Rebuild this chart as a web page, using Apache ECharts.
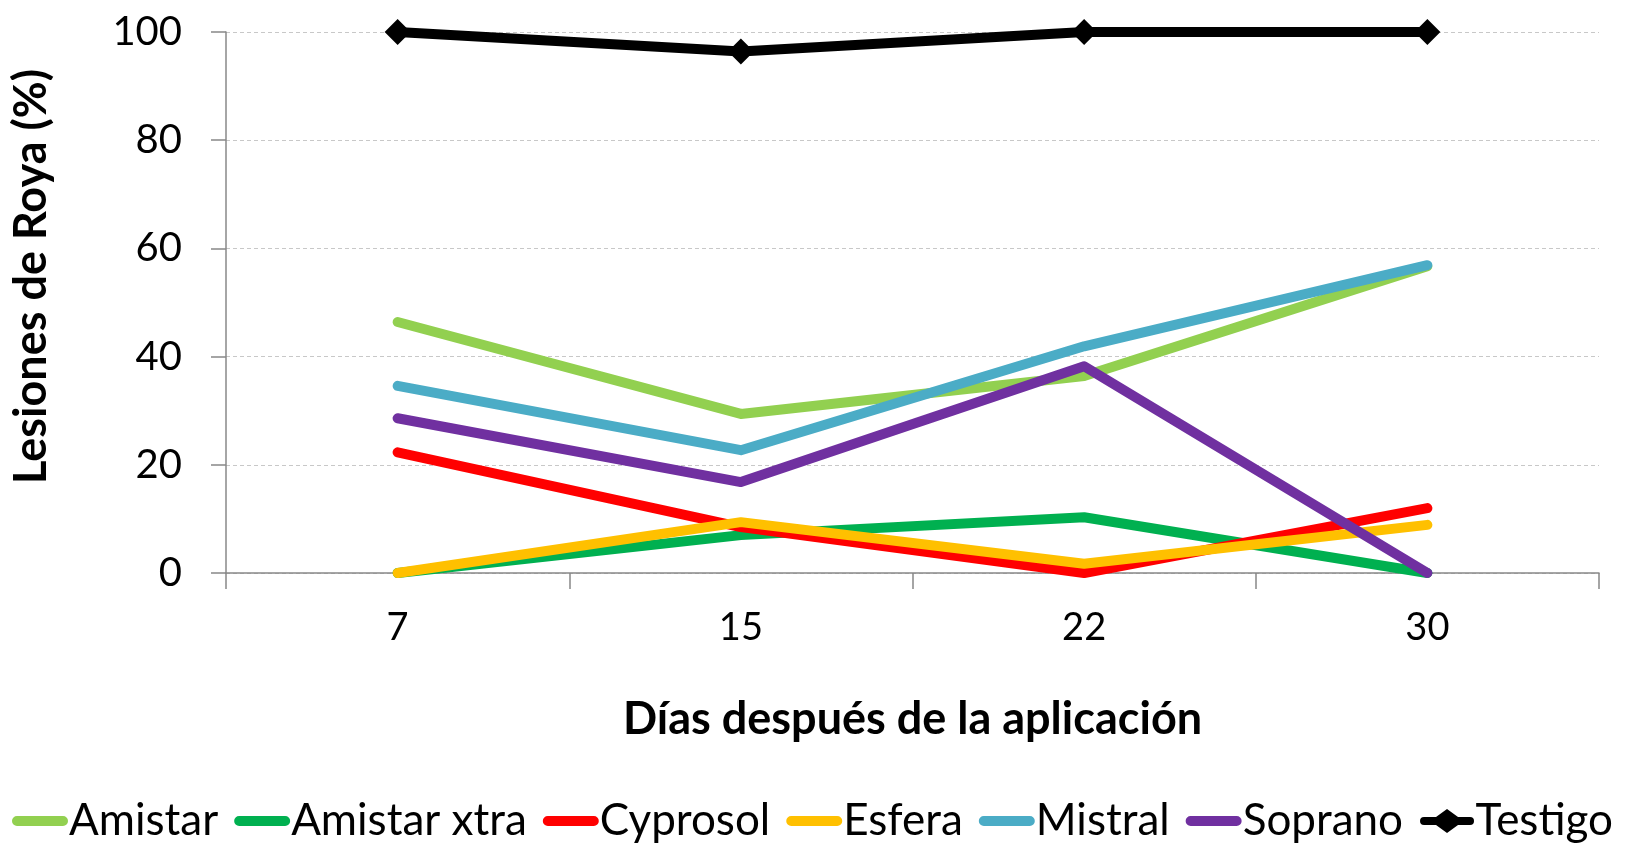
<!DOCTYPE html>
<html>
<head>
<meta charset="utf-8">
<script src="https://cdn.jsdelivr.net/npm/echarts@6/dist/echarts.min.js"></script>
<style>
  html, body { margin: 0; padding: 0; background: #fff; }
  #chart { width: 1625px; height: 848px; }
</style>
</head>
<body>
<div id="chart"></div>
<script>
// dias despues de la aplicacion
const dias = ["7", "15", "22", "30"];
const yTicks = [0, 20, 40, 60, 80, 100];

const nombres = ["Amistar", "Amistar xtra", "Cyprosol", "Esfera", "Mistral", "Soprano", "Testigo"];
const colores = ["#92D050", "#00B050", "#FF0000", "#FFC000", "#4BACC6", "#7030A0", "#000000"];

const amistar = [46.4, 29.4, 36.4, 56.7];
const amistarXtra = [0, 7.0, 10.3, 0];
const cyprosol = [22.3, 8.5, 0, 12.0];
const esfera = [0, 9.4, 1.7, 8.9];
const mistral = [34.6, 22.7, 41.9, 56.9];
const soprano = [28.6, 16.8, 38.2, 0];
const testigo = [100, 96.4, 100, 100];

const font = "Lato, 'Open Sans', sans-serif";

// iconos de leyenda: barra redondeada (caja 56x24) y barra + rombo
const iconoLinea = "path://M0,0L0,0ZM0,24L0,24ZM5,7L51,7A5,5 0 0 1 51,17L5,17A5,5 0 0 1 5,7Z";
const iconoRombo = "path://M0,0L0,0ZM0,24L0,24ZM5,8L17,8L28,0L39,8L51,8A4,4 0 0 1 51,16L39,16L28,24L17,16L5,16A4,4 0 0 1 5,8Z";

function linea(name, data, color) {
  return {
    name: name,
    type: "line",
    data: data,
    symbol: "none",
    animation: false,
    itemStyle: { color: color },
    lineStyle: { color: color, width: 10, cap: "round", join: "round" },
  };
}

let myChart = echarts.init(document.getElementById("chart"));
myChart.setOption({
  textStyle: { fontFamily: font },
  grid: { left: 226, right: 26, top: 32, bottom: 275 },
  legend: {
    bottom: 0,
    left: "center",
    itemWidth: 56,
    itemHeight: 24,
    itemGap: 16,
    textStyle: { fontSize: 44, color: "#000", fontFamily: font, padding: [0, 0, 0, -4] },
    data: nombres.map((n, i) => ({
      name: n,
      icon: n === "Testigo" ? iconoRombo : iconoLinea,
      itemStyle: { color: colores[i], borderWidth: 0 },
    })),
  },
  xAxis: {
    type: "category",
    data: dias,
    boundaryGap: true,
    name: "Días después de la aplicación",
    nameLocation: "middle",
    nameGap: 124,
    nameTextStyle: { fontSize: 45, fontWeight: "bold", color: "#000" },
    axisLine: { lineStyle: { color: "#888", width: 1.5 } },
    axisTick: { show: true, length: 16, lineStyle: { color: "#888", width: 1.5 } },
    axisLabel: { fontSize: 38, color: "#000", margin: 36 },
  },
  yAxis: {
    type: "value",
    min: 0,
    max: 100,
    interval: 20,
    name: "Lesiones de Roya (%)",
    nameLocation: "middle",
    nameGap: 172,
    nameTextStyle: { fontSize: 45, fontWeight: "bold", color: "#000", padding: [0, 0, 0, 52] },
    axisLine: { show: true, lineStyle: { color: "#888", width: 1.5 } },
    axisTick: { show: true, length: 15, lineStyle: { color: "#888", width: 1.5 } },
    axisLabel: {
      fontSize: 40,
      color: "#000",
      margin: 44,
      formatter: (v) => (yTicks.includes(v) ? String(v) : ""),
    },
    splitLine: { show: true, lineStyle: { color: "#c8c8c8", type: [4, 3], width: 1 } },
  },
  series: [
    linea(nombres[0], amistar, colores[0]),
    linea(nombres[1], amistarXtra, colores[1]),
    linea(nombres[2], cyprosol, colores[2]),
    linea(nombres[3], esfera, colores[3]),
    linea(nombres[4], mistral, colores[4]),
    linea(nombres[5], soprano, colores[5]),
    {
      name: nombres[6],
      type: "line",
      data: testigo,
      symbol: "diamond",
      symbolSize: 26,
      animation: false,
      itemStyle: { color: colores[6] },
      lineStyle: { color: colores[6], width: 10, cap: "round", join: "round" },
    },
  ],
});
</script>
</body>
</html>
